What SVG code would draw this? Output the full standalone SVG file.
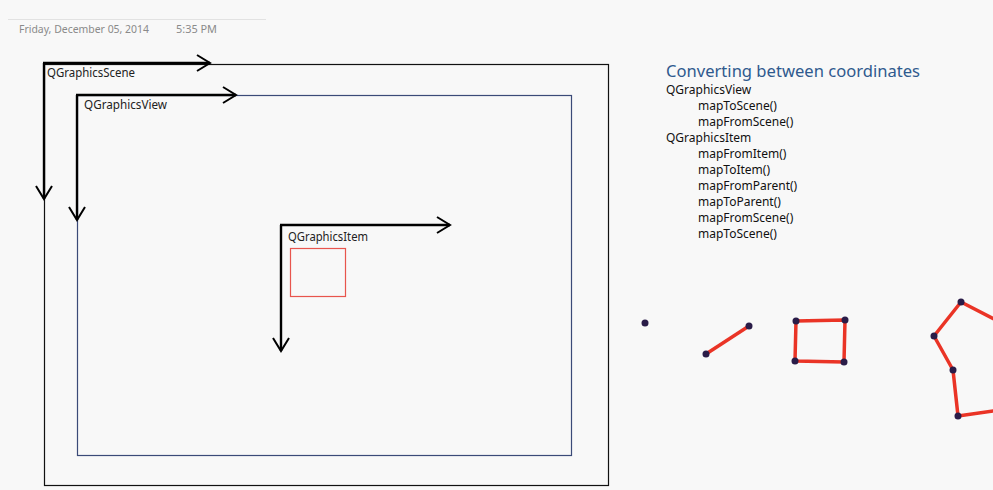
<svg xmlns="http://www.w3.org/2000/svg" width="993" height="490" viewBox="0 0 993 490">
<defs>
<marker id="chev" markerUnits="userSpaceOnUse" markerWidth="20" markerHeight="20" refX="14" refY="8" orient="auto" overflow="visible">
<path d="M1,0 L14,8 L1,16" fill="none" stroke="#000" stroke-width="2"/>
</marker>
</defs>
<style>
.lbl{font-family:"Noto Sans","Open Sans",sans-serif;font-size:12px;fill:#222}
.ax{stroke:#000;stroke-width:2.4;fill:none;marker-end:url(#chev)}
.hd{font-family:"Noto Sans","Open Sans",sans-serif;font-size:16px;fill:#2f5a8e}
.lst{font-family:"Noto Sans","Open Sans",sans-serif;font-size:12px;fill:#111}
.red{stroke:#ea3426;stroke-width:3.5;fill:none;stroke-linejoin:round}
.dot{fill:#2a1c48}
</style>
<rect width="993" height="490" fill="#f8f8f8"/>
<line x1="8" y1="19.5" x2="266" y2="19.5" stroke="#e2e2e2" stroke-width="1"/>
<text x="19" y="33" font-family="'Noto Sans','Open Sans',sans-serif" font-size="10.5" fill="#8a8a8a" textLength="130" lengthAdjust="spacingAndGlyphs">Friday, December 05, 2014</text>
<text x="176" y="33" font-family="'Noto Sans','Open Sans',sans-serif" font-size="10.5" fill="#8a8a8a" textLength="41" lengthAdjust="spacingAndGlyphs">5:35 PM</text>

<g id="scene">
<rect x="44.5" y="64.5" width="564" height="421" fill="none" stroke="#111" stroke-width="1.2"/>
<text class="lbl" x="47" y="77" textLength="88" lengthAdjust="spacingAndGlyphs">QGraphicsScene</text>
</g>
<g id="view">
<rect x="77.5" y="95.5" width="494" height="360" fill="none" stroke="#3b4a78" stroke-width="1.2"/>
<text class="lbl" x="84" y="109" textLength="83" lengthAdjust="spacingAndGlyphs">QGraphicsView</text>
</g>
<g id="item">
<rect x="290.5" y="248.5" width="55" height="48" fill="none" stroke="#e8554d" stroke-width="1.2"/>
<text class="lbl" x="288" y="241" textLength="80" lengthAdjust="spacingAndGlyphs">QGraphicsItem</text>
</g>
<g id="connectors">
<line class="ax" x1="43" y1="63" x2="210" y2="63"/>
<line class="ax" x1="44" y1="63" x2="44" y2="199"/>
<line class="ax" x1="76" y1="95" x2="236" y2="95"/>
<line class="ax" x1="77" y1="95" x2="77" y2="220"/>
<line class="ax" x1="280" y1="225" x2="450" y2="225"/>
<line class="ax" x1="281" y1="225" x2="281" y2="351"/>
</g>

<g id="notes">
<text class="hd" x="666" y="77" textLength="254" lengthAdjust="spacingAndGlyphs">Converting between coordinates</text>
<text class="lst" x="666" y="94">QGraphicsView</text>
<text class="lst" x="698" y="110">mapToScene()</text>
<text class="lst" x="698" y="126">mapFromScene()</text>
<text class="lst" x="666" y="142">QGraphicsItem</text>
<text class="lst" x="698" y="158">mapFromItem()</text>
<text class="lst" x="698" y="174">mapToItem()</text>
<text class="lst" x="698" y="190">mapFromParent()</text>
<text class="lst" x="698" y="206">mapToParent()</text>
<text class="lst" x="698" y="222">mapFromScene()</text>
<text class="lst" x="698" y="238">mapToScene()</text>
</g>

<g id="shapes">
<circle class="dot" cx="645" cy="323" r="3.5"/>
<line class="red" x1="706" y1="354" x2="749" y2="326"/>
<circle class="dot" cx="706" cy="354" r="3.5"/>
<circle class="dot" cx="749" cy="326" r="3.5"/>
<polygon class="red" points="796,321 845,320 844,362 795,361"/>
<circle class="dot" cx="796" cy="321" r="3.5"/>
<circle class="dot" cx="845" cy="320" r="3.5"/>
<circle class="dot" cx="844" cy="362" r="3.5"/>
<circle class="dot" cx="795" cy="361" r="3.5"/>
<polyline class="red" points="1000,322 961,302 934,336 953,370 958,416 1000,410"/>
<circle class="dot" cx="961" cy="302" r="3.5"/>
<circle class="dot" cx="934" cy="336" r="3.5"/>
<circle class="dot" cx="953" cy="370" r="3.5"/>
<circle class="dot" cx="958" cy="416" r="3.5"/>
</g>
</svg>
